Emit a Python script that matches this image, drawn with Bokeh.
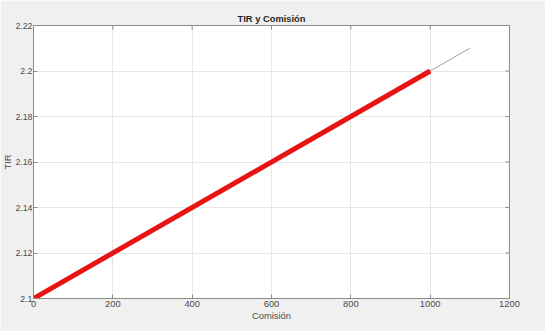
import math
from bokeh.plotting import figure
from bokeh.models import Range1d, FixedTicker, Title
from bokeh.embed import file_html
from bokeh.resources import INLINE

# data
comision_full = [0, 1100]
tir_full = [2.1, 2.21]
comision = [0, 1000]
tir = [2.1, 2.2]
x_ticks = [0, 200, 400, 600, 800, 1000, 1200]
y_ticks = [2.1, 2.12, 2.14, 2.16, 2.18, 2.2, 2.22]
x_min, x_max = 0, 1200
y_min, y_max = 2.1, 2.22

FONT = "Liberation Sans"
TXT = "#4d4d4d"
EDGE = "#8c8c8c"

p = figure(width=545, height=331, output_backend="svg", toolbar_location=None,
           x_range=Range1d(x_min, x_max), y_range=Range1d(y_min, y_max),
           title="TIR y Comisión")
p.min_border_left = 10
p.min_border_right = 36
p.min_border_top = 25
p.min_border_bottom = 33
p.border_fill_color = "#f0f0f0"
p.background_fill_color = "white"
p.outline_line_color = EDGE
p.outline_line_width = 1

p.title.align = "center"
p.title.text_font = FONT
p.title.text_font_size = "7pt"
p.title.text_font_style = "bold"
p.title.text_color = "#262626"
p.title.offset = 0
p.title.standoff = 4

for ax in p.axis:
    ax.major_tick_in = 4
    ax.major_tick_out = 0
    ax.minor_tick_line_color = None
    ax.axis_line_color = EDGE
    ax.major_tick_line_color = EDGE
    ax.major_label_text_font = FONT
    ax.major_label_text_font_size = "7pt"
    ax.major_label_text_color = TXT
    ax.axis_label_text_font = FONT
    ax.axis_label_text_font_size = "7pt"
    ax.axis_label_text_font_style = "normal"
    ax.axis_label_text_color = TXT
    ax.major_label_standoff = 2
    ax.axis_label_standoff = 1

p.yaxis.major_label_standoff = 1
p.yaxis.major_label_text_font_size = "6.6pt"
p.xaxis.ticker = FixedTicker(ticks=x_ticks)
p.yaxis.ticker = FixedTicker(ticks=y_ticks)
p.xaxis.axis_label = "Comisión"

ylab = Title(text="TIR", align="center", text_font=FONT, text_font_size="7pt",
             text_font_style="normal", text_color=TXT, standoff=0, offset=0)
p.add_layout(ylab, "left")

p.grid.grid_line_color = "#e6e6e6"
p.grid.grid_line_width = 1

# inward ticks on the top and right edges of the box (clipped to the frame)
p.scatter(x_ticks, [y_max] * len(x_ticks), marker="dash", size=8, angle=math.pi / 2,
          line_color=EDGE, line_width=1)
p.scatter([x_max] * len(y_ticks), y_ticks, marker="dash", size=8,
          line_color=EDGE, line_width=1)

p.line(comision_full, tir_full, line_color="#a0a0a0", line_width=1)
p.line(comision, tir, line_color="#e81414", line_width=5)

open("out.html", "w").write(file_html(p, INLINE))
